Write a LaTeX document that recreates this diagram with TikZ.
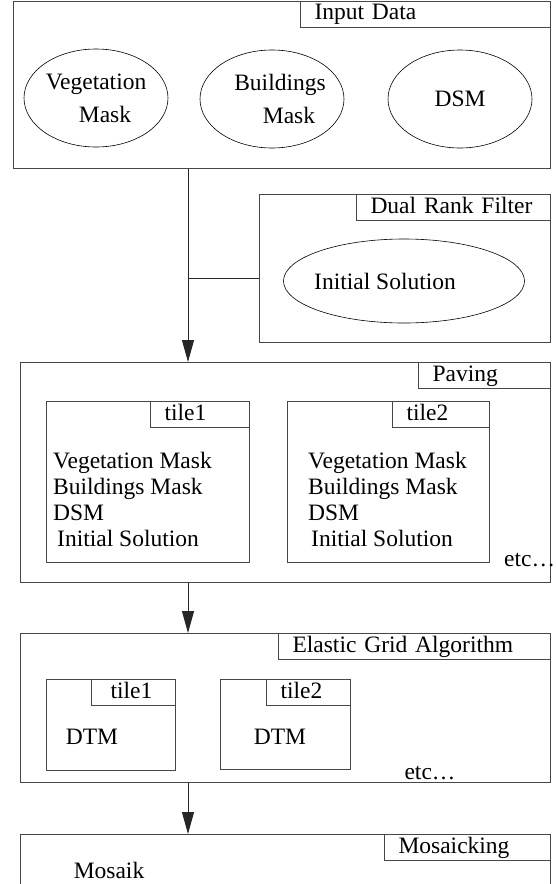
\documentclass[tikz,border=0pt]{standalone}
\usepackage{fontspec}
\setmainfont{Liberation Serif}
\usepackage{tikz}
\usetikzlibrary{shapes.geometric, positioning, arrows.meta, calc}
\definecolor{framecol}{RGB}{70,70,70}

\begin{document}
\begin{tikzpicture}[
        x=1pt, y=-1pt,
        >={Triangle[length=22pt, width=12pt]},
        font=\fontsize{23.5}{26}\selectfont,
        % Styles for the boxes
        frame/.style={
            rectangle, draw=framecol, line width=1pt,
            anchor=north west, inner sep=0pt
        },
        tab/.style={
            rectangle, draw=framecol, line width=1pt,
            anchor=north east, inner xsep=14pt, inner ysep=0pt,
            text width=#1, align=left,
            minimum height=26pt, text height=16pt, text depth=5pt
        },
        blob/.style={
            ellipse, draw=black, line width=0.6pt,
            inner sep=0pt, align=center
        },
        txt/.style={
            inner sep=0pt, align=left
        },
        % Style for connecting lines
        conn/.style={
            draw=black!85, line width=1pt
        }
    ]

    \useasboundingbox (0,0) rectangle (555,884);
    \clip (0,0) rectangle (555,884);

    % 1. MAIN BOXES
    \node[frame, minimum width=537pt, minimum height=167pt] (inp) at (13,0.5) {};
    \node[frame, minimum width=291pt, minimum height=148pt] (drf) at (259,194) {};
    \node[frame, minimum width=530pt, minimum height=220pt] (pav) at (20,362) {};
    \node[frame, minimum width=530pt, minimum height=149pt] (ega) at (20,633) {};
    \node[frame, minimum width=530pt, minimum height=80pt]  (mos) at (20,834) {};

    % 2. TITLE TABS
    \node[tab=222pt] (inp_tab) at (inp.north east) {Input Data};
    \node[tab=166pt] (drf_tab) at (drf.north east) {Dual Rank Filter};
    \node[tab=104pt] (pav_tab) at (pav.north east) {Paving};
    \node[tab=244pt] (ega_tab) at (ega.north east) {Elastic Grid Algorithm};
    \node[tab=138pt] (mos_tab) at (mos.north east) {Mosaicking};

    % 3. INPUT DATA
    \node[blob, minimum width=144pt, minimum height=98pt] (veg) at (96,98)
        {Vegetation\\[7pt]\hspace*{18pt}Mask};
    \node[blob, minimum width=144pt, minimum height=98pt, inner xsep=-8pt] (bld) at (272,99)
        {\hspace*{16pt}Buildings\\[7pt]\hspace*{34pt}Mask};
    \node[blob, minimum width=144pt, minimum height=98pt] (dsm) at (460,99) {DSM};

    % 4. DUAL RANK FILTER
    \node[blob, minimum width=241pt, minimum height=84pt, inner xsep=-25pt] (ini) at (404,281)
        {Initial Solution\hspace*{38pt}};

    % 5. PAVING TILES
    \node[frame, minimum width=203pt, minimum height=161pt] (pav_t1) at (46,401) {};
    \node[frame, minimum width=202pt, minimum height=161pt] (pav_t2) at (287,401) {};
    \node[tab=71pt] (pav_t1_tab) at (pav_t1.north east) {tile1};
    \node[tab=69pt] (pav_t2_tab) at (pav_t2.north east) {tile2};

    \node[txt, anchor=west] (pav_t1_txt) at ($(pav_t1.west)+(7,17)$)
        {Vegetation Mask\\Buildings Mask\\DSM\\\hspace*{4pt}Initial Solution};
    \node[txt, anchor=west] (pav_t2_txt) at ($(pav_t2.west)+(21,17)$)
        {Vegetation Mask\\Buildings Mask\\DSM\\\hspace*{3pt}Initial Solution};
    \node[txt, anchor=west] (pav_etc) at (504,560) {etc\dots};

    % 6. ELASTIC GRID TILES
    \node[frame, minimum width=129pt, minimum height=91pt] (ega_t1) at (46,679) {};
    \node[frame, minimum width=130pt, minimum height=90pt] (ega_t2) at (220,679) {};
    \node[tab=56pt] (ega_t1_tab) at (ega_t1.north east) {\hspace*{5pt}tile1};
    \node[tab=56pt] (ega_t2_tab) at (ega_t2.north east) {tile2};

    \node[txt] (ega_t1_dtm) at (92,737) {DTM};
    \node[txt] (ega_t2_dtm) at (280,737) {DTM};
    \node[txt] (ega_etc) at (430,773) {etc\dots};

    % 7. MOSAICKING
    \node[txt] (mos_txt) at (109,870) {Mosaik};

    % 8. CONNECTORS
    \coordinate (trunk) at (188,0);
    \coordinate (jn) at (188,278);

    \draw[conn, ->] (inp.south -| trunk) -- (pav.north -| trunk);
    \draw[conn] (drf.west |- jn) -- (jn);
    \draw[conn, ->] (pav.south -| trunk) -- (ega.north -| trunk);
    \draw[conn, ->] (ega.south -| trunk) -- (mos.north -| trunk);

\end{tikzpicture}
\end{document}
